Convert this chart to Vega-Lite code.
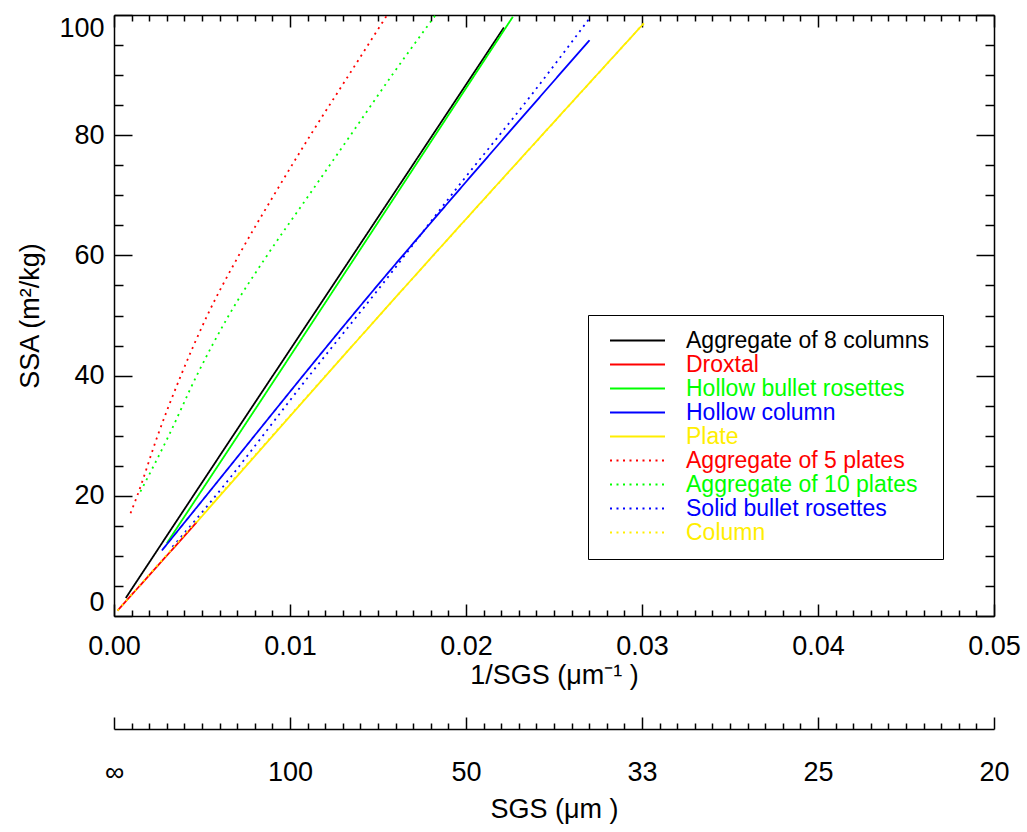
{
  "$schema": "https://vega.github.io/schema/vega-lite/v6.json",
  "width": 880,
  "height": 601,
  "autosize": {"type": "none"},
  "padding": {"left": 114, "top": 15, "right": 33, "bottom": 216},
  "background": "white",
  "config": {
    "view": {"stroke": null},
    "font": "Liberation Sans",
    "axis": {"grid": false, "domainColor": "black", "domainWidth": 1.5, "tickColor": "black", "tickWidth": 1.5, "labelColor": "black", "titleColor": "black", "labelFont": "Liberation Sans", "titleFont": "Liberation Sans", "labelFontSize": 27, "titleFontSize": 27, "titleFontWeight": "normal", "labelOverlap": false, "labelBound": false}
  },
  "data": {
    "values": [
      {"series": "Aggregate of 8 columns", "x": 0.00067, "y": 3.0},
      {"series": "Aggregate of 8 columns", "x": 0.00378, "y": 16.8},
      {"series": "Aggregate of 8 columns", "x": 0.01855, "y": 82.0},
      {"series": "Aggregate of 8 columns", "x": 0.02215, "y": 97.9},
      {"series": "Droxtal", "x": 0.0002, "y": 0.9},
      {"series": "Droxtal", "x": 0.0047, "y": 15.6},
      {"series": "Hollow bullet rosettes", "x": 0.0030, "y": 12.1},
      {"series": "Hollow bullet rosettes", "x": 0.00406, "y": 16.8},
      {"series": "Hollow bullet rosettes", "x": 0.02266, "y": 99.7},
      {"series": "Hollow column", "x": 0.00272, "y": 10.9},
      {"series": "Hollow column", "x": 0.00435, "y": 16.8},
      {"series": "Hollow column", "x": 0.01514, "y": 55.6},
      {"series": "Hollow column", "x": 0.01855, "y": 67.3},
      {"series": "Hollow column", "x": 0.02702, "y": 95.8},
      {"series": "Plate", "x": 0.0047, "y": 15.6},
      {"series": "Plate", "x": 0.01514, "y": 50.2},
      {"series": "Plate", "x": 0.0301, "y": 98.6},
      {"series": "Aggregate of 5 plates", "x": 0.00094, "y": 17.1},
      {"series": "Aggregate of 5 plates", "x": 0.00132, "y": 20},
      {"series": "Aggregate of 5 plates", "x": 0.00248, "y": 30},
      {"series": "Aggregate of 5 plates", "x": 0.0038, "y": 40},
      {"series": "Aggregate of 5 plates", "x": 0.0053, "y": 50},
      {"series": "Aggregate of 5 plates", "x": 0.00709, "y": 60},
      {"series": "Aggregate of 5 plates", "x": 0.00908, "y": 70},
      {"series": "Aggregate of 5 plates", "x": 0.01116, "y": 80},
      {"series": "Aggregate of 5 plates", "x": 0.01334, "y": 90},
      {"series": "Aggregate of 5 plates", "x": 0.01552, "y": 100},
      {"series": "Aggregate of 10 plates", "x": 0.0015, "y": 20.7},
      {"series": "Aggregate of 10 plates", "x": 0.00311, "y": 30},
      {"series": "Aggregate of 10 plates", "x": 0.0047, "y": 40},
      {"series": "Aggregate of 10 plates", "x": 0.00652, "y": 50},
      {"series": "Aggregate of 10 plates", "x": 0.0087, "y": 60},
      {"series": "Aggregate of 10 plates", "x": 0.01107, "y": 70},
      {"series": "Aggregate of 10 plates", "x": 0.01344, "y": 80},
      {"series": "Aggregate of 10 plates", "x": 0.0158, "y": 90},
      {"series": "Aggregate of 10 plates", "x": 0.01827, "y": 100},
      {"series": "Solid bullet rosettes", "x": 0.00332, "y": 11.5},
      {"series": "Solid bullet rosettes", "x": 0.0051, "y": 17.6},
      {"series": "Solid bullet rosettes", "x": 0.01126, "y": 40.6},
      {"series": "Solid bullet rosettes", "x": 0.01514, "y": 54.8},
      {"series": "Solid bullet rosettes", "x": 0.0194, "y": 70.9},
      {"series": "Solid bullet rosettes", "x": 0.02385, "y": 87.2},
      {"series": "Solid bullet rosettes", "x": 0.02698, "y": 99.3},
      {"series": "Column", "x": 0.0002, "y": 0.9},
      {"series": "Column", "x": 0.01514, "y": 50.2},
      {"series": "Column", "x": 0.0301, "y": 98.6}
    ]
  },
  "resolve": {"axis": {"x": "independent", "y": "independent"}},
  "layer": [
    {
      "mark": {"type": "line", "strokeWidth": 1.8, "strokeCap": "butt", "clip": true, "interpolate": "monotone"},
      "encoding": {
        "x": {
          "field": "x", "type": "quantitative",
          "scale": {"domain": [0, 0.05], "nice": false, "zero": false},
          "axis": {
            "orient": "bottom",
            "values": [0,0.001,0.002,0.003,0.004,0.005,0.006,0.007,0.008,0.009,0.01,0.011,0.012,0.013,0.014,0.015,0.016,0.017,0.018,0.019,0.02,0.021,0.022,0.023,0.024,0.025,0.026,0.027,0.028,0.029,0.03,0.031,0.032,0.033,0.034,0.035,0.036,0.037,0.038,0.039,0.04,0.041,0.042,0.043,0.044,0.045,0.046,0.047,0.048,0.049,0.05],
            "tickSize": {"condition": {"test": "abs(datum.value*100 - round(datum.value*100)) < 1e-6", "value": -12}, "value": -6},
            "labelExpr": "abs(datum.value*100 - round(datum.value*100)) < 1e-6 ? format(datum.value, '.2f') : ''",
            "labelFlush": false,
            "labelPadding": 29,
            "title": "1/SGS (μm⁻¹ )",
            "titlePadding": -3
          }
        },
        "y": {
          "field": "y", "type": "quantitative",
          "scale": {"domain": [0, 100], "nice": false},
          "axis": {
            "orient": "left",
            "values": [0,5,10,15,20,25,30,35,40,45,50,55,60,65,70,75,80,85,90,95,100],
            "tickSize": {"condition": {"test": "datum.value % 20 === 0", "value": -18}, "value": -9},
            "labelExpr": "datum.value % 20 === 0 ? datum.label : ''",
            "labelFlush": true,
            "labelPadding": 28,
            "title": "SSA (m²/kg)",
            "titlePadding": 14
          }
        },
        "color": {
          "field": "series", "type": "nominal",
          "scale": {
            "domain": ["Aggregate of 8 columns", "Droxtal", "Hollow bullet rosettes", "Hollow column", "Plate", "Aggregate of 5 plates", "Aggregate of 10 plates", "Solid bullet rosettes", "Column"],
            "range": ["#000000", "#ff0000", "#00ff00", "#0000ff", "#ffee00", "#ff0000", "#00ff00", "#0000ff", "#ffee00"]
          },
          "legend": {
            "orient": "none", "legendX": 474, "legendY": 300,
            "title": null,
            "symbolType": "M-5,0H5", "symbolSize": 121, "symbolStrokeWidth": 1.8,
            "labelFontSize": 23, "labelFont": "Liberation Sans",
            "labelColor": {"expr": "scale('color', datum.value)"},
            "strokeColor": "black", "fillColor": "white", "padding": 14,
            "rowPadding": 0, "symbolOffset": 24, "labelOffset": 37, "labelLimit": 400
          }
        },
        "strokeDash": {
          "field": "series", "type": "nominal",
          "scale": {
            "domain": ["Aggregate of 8 columns", "Droxtal", "Hollow bullet rosettes", "Hollow column", "Plate", "Aggregate of 5 plates", "Aggregate of 10 plates", "Solid bullet rosettes", "Column"],
            "range": [[1,0],[1,0],[1,0],[1,0],[1,0],[2,4.5],[2,4.5],[2,4.5],[2,4.5]]
          },
          "legend": {
            "orient": "none", "legendX": 474, "legendY": 300,
            "title": null,
            "symbolType": "M-5,0H5", "symbolSize": 121, "symbolStrokeWidth": 1.8,
            "labelFontSize": 23, "labelFont": "Liberation Sans",
            "labelColor": {"expr": "scale('color', datum.value)"},
            "strokeColor": "black", "fillColor": "white", "padding": 14,
            "rowPadding": 0, "symbolOffset": 24, "labelOffset": 37, "labelLimit": 400
          }
        }
      }
    },
    {
      "mark": {"type": "point", "opacity": 0, "size": 1},
      "encoding": {
        "x": {
          "field": "x", "type": "quantitative",
          "axis": {
            "orient": "top",
            "values": [0,0.001,0.002,0.003,0.004,0.005,0.006,0.007,0.008,0.009,0.01,0.011,0.012,0.013,0.014,0.015,0.016,0.017,0.018,0.019,0.02,0.021,0.022,0.023,0.024,0.025,0.026,0.027,0.028,0.029,0.03,0.031,0.032,0.033,0.034,0.035,0.036,0.037,0.038,0.039,0.04,0.041,0.042,0.043,0.044,0.045,0.046,0.047,0.048,0.049,0.05],
            "tickSize": {"condition": {"test": "abs(datum.value*100 - round(datum.value*100)) < 1e-6", "value": -12}, "value": -6},
            "labels": false,
            "title": null
          }
        },
        "y": {
          "field": "y", "type": "quantitative",
          "axis": {
            "orient": "right",
            "values": [0,5,10,15,20,25,30,35,40,45,50,55,60,65,70,75,80,85,90,95,100],
            "tickSize": {"condition": {"test": "datum.value % 20 === 0", "value": -18}, "value": -9},
            "labels": false,
            "title": null
          }
        }
      }
    },
    {
      "mark": {"type": "point", "opacity": 0, "size": 1},
      "encoding": {
        "x": {
          "field": "x", "type": "quantitative",
          "axis": {
            "orient": "bottom",
            "offset": 113,
            "values": [0,0.001,0.002,0.003,0.004,0.005,0.006,0.007,0.008,0.009,0.01,0.011,0.012,0.013,0.014,0.015,0.016,0.017,0.018,0.019,0.02,0.021,0.022,0.023,0.024,0.025,0.026,0.027,0.028,0.029,0.03,0.031,0.032,0.033,0.034,0.035,0.036,0.037,0.038,0.039,0.04,0.041,0.042,0.043,0.044,0.045,0.046,0.047,0.048,0.049,0.05],
            "tickSize": {"condition": {"test": "abs(datum.value*100 - round(datum.value*100)) < 1e-6", "value": -12}, "value": -6},
            "labelExpr": "abs(datum.value*100 - round(datum.value*100)) < 1e-6 ? (round(datum.value*100) == 0 ? '∞' : format(1/datum.value, 'd')) : ''",
            "labelFlush": false,
            "labelPadding": 42.5,
            "title": "SGS (μm )",
            "titlePadding": 5
          }
        },
        "y": {"field": "y", "type": "quantitative", "axis": null}
      }
    }
  ]
}
